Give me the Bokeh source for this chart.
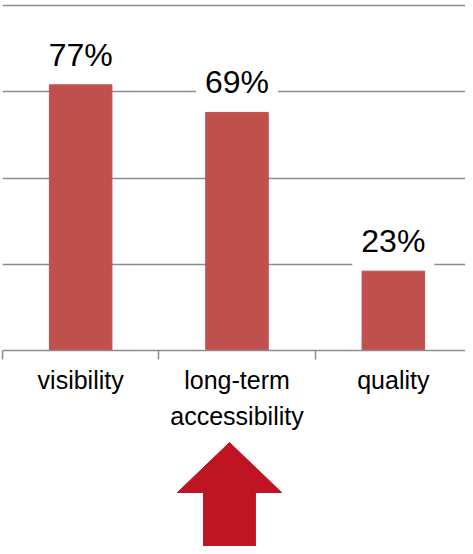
from bokeh.plotting import figure
from bokeh.models import ColumnDataSource, Label, FixedTicker, Range1d
from bokeh.layouts import column
from bokeh.embed import file_html
from bokeh.resources import INLINE

# ---- data ----
categories = ["visibility", "long-term\naccessibility", "quality"]
values = [77, 69, 23]
value_labels = ["77%", "69%", "23%"]
grid_ticks = [0, 25, 50, 75, 100]
highlight_index = 1  # category marked with the arrow

# ---- styles ----
BAR = "#C0504D"
ARROW = "#C01422"
GRID = "#8c8c8c"
FONT = "Liberation Sans"

n = len(categories)
xs = [i + 0.5 for i in range(n)]
src = ColumnDataSource(dict(x=xs, top=values, lab=value_labels))

W = 465
H1 = 440
H2 = 546 - H1
FRAME_H = 350
X_END = (W - 2) / ((471 - 2) / n)

p = figure(width=W, height=H1, x_range=Range1d(0, X_END), y_range=Range1d(0, 100 * FRAME_H / 345),
           output_backend="svg", toolbar_location=None, y_axis_location=None,
           min_border_left=2, min_border_right=0, min_border_top=0, min_border_bottom=H1 - FRAME_H)
p.outline_line_color = None
p.background_fill_color = "white"
p.border_fill_color = "white"
p.xgrid.visible = False
p.ygrid.ticker = FixedTicker(ticks=grid_ticks)
p.ygrid.grid_line_color = GRID
p.ygrid.grid_line_width = 1.5

p.vbar(x="x", top="top", width=0.4, source=src, fill_color=BAR, line_color=BAR)

ax = p.xaxis[0]
ax.ticker = FixedTicker(ticks=xs, minor_ticks=list(range(n + 1)))
ax.major_label_overrides = {x: c for x, c in zip(xs, categories)}
ax.major_tick_out = 0
ax.major_tick_in = 0
ax.minor_tick_out = 9
ax.minor_tick_in = 0
ax.minor_tick_line_color = GRID
ax.minor_tick_line_width = 1.5
ax.axis_line_color = GRID
ax.axis_line_width = 1.5
ax.major_label_text_font = FONT
ax.major_label_text_font_size = "25px"
ax.major_label_text_color = "black"
ax.major_label_text_line_height = 1.3
ax.major_label_standoff = 6

for x, v, t in zip(xs, values, value_labels):
    p.add_layout(Label(x=x, y=v, text=t, y_offset=30,
                       text_align="center", text_baseline="alphabetic",
                       text_font=FONT, text_font_size="32px", text_color="black",
                       background_fill_color="white", padding=9))

# ---- arrow below the highlighted category ----
cx = xs[highlight_index] - 0.048
head_half, shaft_half = 0.333, 0.166
tip, head_base, bottom = 442, 492, 560
arrow_x = [cx, cx + head_half, cx + shaft_half, cx + shaft_half,
           cx - shaft_half, cx - shaft_half, cx - head_half]
arrow_y = [tip, head_base, head_base, bottom, bottom, head_base, head_base]

p2 = figure(width=W, height=H2, x_range=Range1d(0, X_END), y_range=Range1d(H1 + H2, H1),
            output_backend="svg", toolbar_location=None,
            x_axis_location=None, y_axis_location=None,
            min_border=0, min_border_left=2, min_border_right=0)
p2.outline_line_color = None
p2.xgrid.visible = False
p2.ygrid.visible = False
p2.patch(arrow_x, arrow_y, fill_color=ARROW, line_color=ARROW)

layout = column(p, p2, spacing=0)
open("out.html", "w").write(file_html(layout, INLINE))
